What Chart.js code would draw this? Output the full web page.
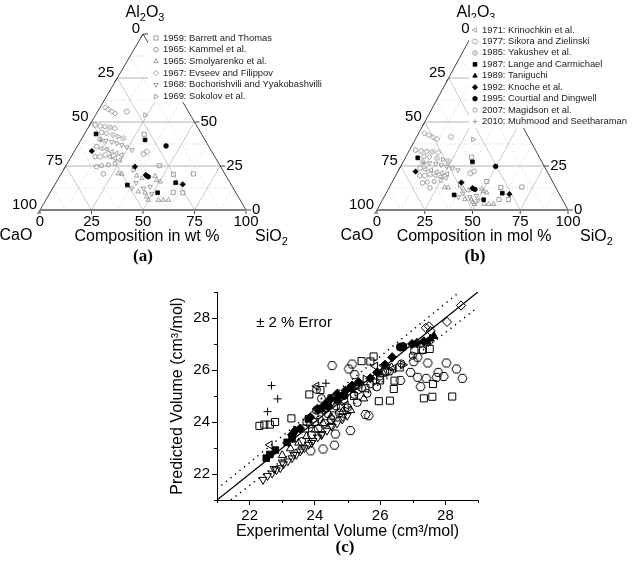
<!DOCTYPE html>
<html>
<head>
<meta charset="utf-8">
<script src="https://cdn.jsdelivr.net/npm/chart.js@4.4.0/dist/chart.umd.min.js"></script>
<style>
  html, body { margin: 0; padding: 0; background: #fff; }
  #wrap { position: relative; width: 638px; height: 563px; overflow: hidden; }
  #wrap canvas { position: absolute; left: 0; top: 0; }
</style>
</head>
<body>
<div id="wrap">
  <canvas id="ternWt" width="638" height="563"></canvas>
  <canvas id="ternMol" width="638" height="563"></canvas>
  <canvas id="volume" width="638" height="563"></canvas>
</div>
<script>
/* ---------------------------------------------------------------------------
   CaO-SiO2-Al2O3 molar volume figure
   (a) ternary in wt %, (b) ternary in mol %, (c) predicted vs experimental
   --------------------------------------------------------------------------- */

const SERIES_NAMES = [
  '1959: Barrett and Thomas',
  '1965: Kammel et al.',
  '1965: Smolyarenko et al.',
  '1967: Evseev and Filippov',
  '1968: Bochorishvili and Yyakobashvilli',
  '1969: Sokolov et al.',
  '1971: Krinochkin et al.',
  '1977: Sikora and Zielinski',
  '1985: Yakushev et al.',
  '1987: Lange and Carmichael',
  '1989: Taniguchi',
  '1992: Knoche et al.',
  '1995: Courtial and Dingwell',
  '2007: Magidson et al.',
  '2010: Muhmood and Seetharaman'
];

// ternary compositions, wt %: [SiO2, Al2O3]  (CaO = rest)
const TERN_BARRETT   = [[29.1, 43.0], [45.3, 25.2], [54.6, 20.3], [64.2, 20.5], [59.7, 10.0], [64.4, 9.8]];
const TERN_KAMMEL    = [[2.6, 48.3], [5.3, 47.7], [7.9, 44.1], [9.5, 36.0], [11.6, 30.3], [15.2, 24.6], [20.5, 20.5]];
const TERN_SMOLY     = [[27.6, 20.8], [29.4, 20.5], [37.2, 19.5], [40.4, 18.0], [46.2, 19.3], [48.1, 17.0], [50.3, 16.1],
                        [42.5, 10.4], [46.1, 9.8], [48.0, 7.6], [49.8, 5.7], [54.6, 5.7], [59.5, 5.7], [57.0, 5.7]];
const TERN_EVSEEV    = [[2.4, 58.3], [4.6, 57.2], [6.9, 55.9], [9.0, 54.9], [10.6, 43.6], [13.2, 46.4]];
const TERN_BOCH      = [[12.3, 39.4], [15.4, 38.8], [18.3, 37.9], [21.2, 36.9], [24.3, 35.6], [27.5, 34.1],
                        [46.8, 13.3], [44.0, 12.3], [49.7, 9.1], [38.4, 12.3], [38.9, 15.5]];
const TERN_SOKOLOV   = [[24.0, 54.0], [34.0, 22.7], [17.2, 41.7]];
const TERN_KRINO     = [[12.4, 35.0], [15.2, 34.5], [18.3, 33.1], [21.1, 32.2], [24.0, 31.3], [18.9, 30.3], [21.7, 29.4], [24.6, 28.4]];
const TERN_SIKORA    = [[14.2, 55.9], [34.3, 31.8], [35.3, 33.1], [14.0, 30.3], [16.0, 31.3]];
const TERN_YAKUSHEV  = [[10.5, 47.0], [14.3, 42.6], [20.1, 40.7], [9.0, 40.2]];
const TERN_LANGE     = [[5.6, 43.2], [31.1, 39.8], [35.3, 14.2], [52.2, 9.8], [58.1, 15.5]];
const TERN_TANIGUCHI = [[42.0, 19.5]];
const TERN_KNOCHE    = [[8.4, 33.5], [33.8, 24.6], [41.4, 19.9], [62.0, 14.6]];
const TERN_COURTIAL  = [[43.0, 36.4], [43.1, 18.9]];
const TERN_MAGIDSON  = [[7.9, 47.3], [17.3, 25.2], [20.4, 25.6], [23.2, 26.5]];
const TERN_MUHMOOD   = [[9.9, 39.4]];

// molar volumes, cm3/mol: [experimental, predicted]
const VOL_BARRETT = [[22.30, 23.85], [22.45, 23.90], [22.62, 23.90], [22.78, 24.00], [23.28, 24.14], [23.83, 25.06],
  [24.17, 25.23], [24.51, 24.91], [25.43, 26.34], [25.70, 26.33], [25.80, 26.52], [25.96, 24.80], [26.30, 24.82],
  [26.42, 25.27], [26.44, 25.59], [27.05, 26.75], [27.31, 26.78], [27.52, 26.81], [27.34, 24.91], [27.60, 24.97],
  [28.21, 24.98], [27.62, 25.46], [24.80, 24.55], [25.20, 25.00], [25.55, 25.30], [26.00, 25.60], [26.15, 25.95],
  [26.60, 26.10], [24.00, 24.00], [23.70, 23.75]];
const VOL_KAMMEL = [[23.60, 23.25], [23.90, 23.50], [24.10, 23.75], [24.30, 23.95], [24.50, 24.10], [24.75, 24.35],
  [25.00, 24.55], [25.30, 24.75], [25.60, 25.10], [25.90, 25.35], [23.75, 24.00], [24.05, 24.45]];
const VOL_SMOLY = [[23.00, 22.72], [23.25, 22.98], [23.50, 23.20], [23.75, 23.45], [24.00, 23.70], [24.25, 23.95],
  [24.50, 24.20], [24.85, 24.40], [25.10, 24.45], [25.50, 24.90], [26.10, 25.85], [26.35, 26.10]];
const VOL_EVSEEV = [[27.40, 27.62], [27.50, 27.68], [27.55, 27.50], [28.05, 27.85], [28.48, 28.48], [24.35, 24.55], [24.55, 24.80]];
const VOL_BOCH = [[22.41, 21.78], [22.55, 21.93], [22.69, 22.02], [22.82, 22.15], [22.94, 22.23], [23.04, 22.38],
  [23.17, 22.49], [23.30, 22.61], [23.43, 22.74], [23.55, 22.87], [23.68, 23.00], [23.81, 23.13], [23.94, 23.28],
  [24.09, 23.41], [24.22, 23.54], [24.37, 23.67], [24.53, 23.82], [24.68, 23.95], [24.84, 24.10], [24.99, 24.24],
  [22.75, 22.20], [23.00, 22.45], [23.35, 22.75], [23.60, 22.95], [23.90, 23.20], [24.20, 23.50], [24.50, 23.85], [24.85, 24.20]];
const VOL_SOKOLOV = [[24.30, 24.45], [25.30, 25.15], [25.85, 25.55], [26.70, 26.20], [25.55, 25.65]];
const VOL_KRINO = [[22.62, 23.12], [24.05, 25.38], [23.15, 23.20], [25.85, 26.15], [26.10, 26.18], [24.95, 24.65], [26.40, 26.05]];
const VOL_SIKORA = [[24.53, 26.17], [25.04, 26.04], [25.14, 26.23], [25.22, 25.82], [24.58, 24.24], [24.63, 23.54],
  [24.25, 22.96], [25.09, 23.67], [25.55, 24.29], [25.65, 24.24], [23.87, 22.89], [24.60, 23.11], [26.93, 25.91],
  [27.15, 25.72], [27.46, 26.27], [27.41, 25.68], [27.24, 25.36], [27.73, 25.72], [27.78, 25.91], [28.03, 26.27],
  [27.95, 25.75], [28.34, 26.04], [28.52, 25.68], [27.03, 26.32], [27.15, 26.49], [26.62, 25.60], [26.20, 25.95]];
const VOL_YAKUSHEV = [[24.05, 25.25], [24.20, 24.90], [25.35, 25.45], [24.65, 24.95]];
const VOL_LANGE = [[22.51, 22.61], [22.62, 22.75], [22.79, 22.92], [23.15, 23.22], [23.30, 23.35], [23.80, 24.12],
  [24.20, 24.52], [24.70, 24.85], [25.10, 25.30]];
const VOL_TANIGUCHI = [[27.45, 27.08], [27.54, 27.20], [27.65, 27.30]];
const VOL_KNOCHE = [[23.40, 23.67], [23.30, 23.51], [23.86, 24.18], [24.07, 24.50], [24.32, 24.69], [24.48, 24.89],
  [24.68, 25.08], [24.94, 25.21], [25.14, 25.40], [25.34, 25.53], [25.70, 25.68], [25.91, 25.91], [26.15, 26.20],
  [26.37, 26.49], [26.98, 27.00], [27.13, 27.04], [27.34, 27.10], [23.55, 23.75]];
const VOL_COURTIAL = [[26.62, 26.88], [26.70, 26.90], [24.40, 24.62], [24.90, 25.02]];
const VOL_MAGIDSON = [[23.85, 23.90], [24.15, 24.10], [24.40, 24.30], [24.65, 24.60], [24.90, 24.85], [25.20, 25.05],
  [25.45, 25.30], [25.70, 25.45], [26.00, 25.75], [26.30, 25.95], [26.65, 26.25], [27.00, 26.55], [27.30, 26.75]];
const VOL_MUHMOOD = [[22.67, 25.40], [22.86, 24.89], [22.55, 24.40], [24.34, 25.49], [24.10, 24.35]];

const TERN_TICKS = [0, 25, 50, 75, 100];
const TERN_GRID = [12.5, 25, 37.5, 50, 62.5, 75, 87.5];
const VOL_TICKS = [22, 24, 26, 28];
const VOL_MINOR = [21, 23, 25, 27, 29];
const VOL_MIN = 21, VOL_MAX = 29;
const ERROR_BAND = 0.02;
const MOLAR_MASS = { CaO: 56.08, SiO2: 60.08, Al2O3: 101.96 };

const TERN_SERIES = [TERN_BARRETT, TERN_KAMMEL, TERN_SMOLY, TERN_EVSEEV, TERN_BOCH, TERN_SOKOLOV, TERN_KRINO,
  TERN_SIKORA, TERN_YAKUSHEV, TERN_LANGE, TERN_TANIGUCHI, TERN_KNOCHE, TERN_COURTIAL, TERN_MAGIDSON, TERN_MUHMOOD];
const VOL_SERIES = [VOL_BARRETT, VOL_KAMMEL, VOL_SMOLY, VOL_EVSEEV, VOL_BOCH, VOL_SOKOLOV, VOL_KRINO,
  VOL_SIKORA, VOL_YAKUSHEV, VOL_LANGE, VOL_TANIGUCHI, VOL_KNOCHE, VOL_COURTIAL, VOL_MAGIDSON, VOL_MUHMOOD];

// marker look per series (radius is for panel c, ternary uses a fraction)
const MARKERS = [
  { style: 'rect', r: 5 },
  { style: 'circle', r: 4 },
  { style: 'triangle', r: 4.6 },
  { style: 'rectRot', r: 4.6 },
  { style: 'triangle', r: 4.6, rot: 180 },
  { style: 'triangle', r: 4.6, rot: 90 },
  { style: 'triangle', r: 4.6, rot: 270 },
  { style: 'hex', r: 4.6 },
  { style: 'dotCircle', r: 4 },
  { style: 'rect', r: 4.6, filled: true },
  { style: 'triangle', r: 4.6, filled: true },
  { style: 'rectRot', r: 4.6, filled: true },
  { style: 'circle', r: 4, filled: true },
  { style: 'circle', r: 3.6 },
  { style: 'cross', r: 4 }
];

const FONT = '"Liberation Sans", Arial, sans-serif';
const SERIF = '"Liberation Serif", "Times New Roman", serif';
Chart.defaults.font.family = FONT;
Chart.defaults.color = '#000';

function symbolCanvas(kind, r, color, lw) {
  const size = Math.ceil(2 * r + lw + 2);
  const c = document.createElement('canvas');
  c.width = c.height = size;
  const g = c.getContext('2d');
  const m = size / 2;
  g.strokeStyle = color;
  g.lineWidth = lw;
  g.beginPath();
  if (kind === 'hex') {
    for (let k = 0; k < 6; k++) {
      const a = k * Math.PI / 3;
      const px = m + r * Math.cos(a), py = m + r * Math.sin(a);
      k ? g.lineTo(px, py) : g.moveTo(px, py);
    }
    g.closePath();
  } else {
    g.arc(m, m, r, 0, 2 * Math.PI);
  }
  g.stroke();
  if (kind === 'dotCircle') {
    g.beginPath();
    g.arc(m, m, Math.max(0.7, r * 0.25), 0, 2 * Math.PI);
    g.fillStyle = color;
    g.fill();
  }
  return c;
}

function pointOpts(i, k, color) {
  const m = MARKERS[i];
  const r = m.r * k;
  const lw = k < 1 ? 0.8 : 1;
  const stroke = m.filled ? '#000' : color;
  let style = m.style;
  if (style === 'hex' || style === 'dotCircle') style = symbolCanvas(style, r, stroke, lw);
  return {
    pointStyle: style,
    pointRotation: m.rot || 0,
    pointRadius: r,
    pointBorderWidth: lw,
    pointBorderColor: stroke,
    pointBackgroundColor: m.filled ? '#000' : 'rgba(0,0,0,0)',
    order: m.filled ? 0 : 1
  };
}

function wtToMol([si, al]) {
  const ca = 100 - si - al;
  const nCa = ca / MOLAR_MASS.CaO, nSi = si / MOLAR_MASS.SiO2, nAl = al / MOLAR_MASS.Al2O3;
  const s = nCa + nSi + nAl;
  return [100 * nSi / s, 100 * nAl / s];
}

function seg(ctx, a, b) {
  ctx.beginPath();
  ctx.moveTo(a[0], a[1]);
  ctx.lineTo(b[0], b[1]);
  ctx.stroke();
}

// text with subscripts: parts = [[text, isSub], ...]
function drawFormula(ctx, parts, x, y, size, align) {
  const widths = parts.map(([t, sub]) => {
    ctx.font = (sub ? size * 0.68 : size) + 'px ' + FONT;
    return ctx.measureText(t).width;
  });
  const total = widths.reduce((a, b) => a + b, 0);
  let cx = align === 'center' ? x - total / 2 : (align === 'right' ? x - total : x);
  ctx.textAlign = 'left';
  ctx.textBaseline = 'middle';
  parts.forEach(([t, sub], i) => {
    ctx.font = (sub ? size * 0.68 : size) + 'px ' + FONT;
    ctx.fillText(t, cx, sub ? y + size * 0.3 : y);
    cx += widths[i];
  });
}

function ternaryDecor(o) {
  const toPx = chart => (si, al) => [
    chart.scales.x.getPixelForValue(si + al / 2),
    chart.scales.y.getPixelForValue(al)
  ];
  return {
    id: 'ternaryDecor',
    beforeDatasetsDraw(chart) {
      const ctx = chart.ctx, P = toPx(chart);
      ctx.save();
      ctx.lineWidth = 1;
      TERN_GRID.forEach(v => {
        const major = v % 25 === 0;
        ctx.setLineDash(major ? [] : [1, 2]);
        ctx.strokeStyle = major ? '#cacaca' : '#d4d4d4';
        seg(ctx, P(100 - v, 0), P(0, 100 - v));
        seg(ctx, P(v, 0), P(v, 100 - v));
        ctx.strokeStyle = major ? '#b2b2b2' : '#d4d4d4';
        seg(ctx, P(0, v), P(100 - v, v));
      });
      ctx.restore();
    },
    afterDatasetsDraw(chart) {
      const ctx = chart.ctx, P = toPx(chart);
      ctx.save();
      ctx.setLineDash([]);
      // edges
      ctx.strokeStyle = '#444';
      ctx.lineWidth = 1;
      seg(ctx, P(0, 0), P(0, 100));
      seg(ctx, P(100, 0), P(0, 100));
      ctx.strokeStyle = '#808080';
      ctx.lineWidth = 2;
      seg(ctx, P(0, 0), P(100, 0));
      // ticks and tick labels
      ctx.lineWidth = 1;
      ctx.strokeStyle = '#444';
      ctx.fillStyle = '#000';
      ctx.font = '15px ' + FONT;
      TERN_TICKS.forEach(v => {
        const l = P(0, 100 - v);
        seg(ctx, l, [l[0] - 2.5, l[1] + 4]);
        ctx.textAlign = 'right';
        ctx.textBaseline = 'middle';
        ctx.fillText(String(v), l[0] - 3, l[1] - 5);

        const b = P(v, 0);
        seg(ctx, [b[0], b[1] + 1], [b[0], b[1] + 4]);
        ctx.textAlign = 'center';
        ctx.fillText(String(v), b[0], b[1] + 12);

        const r = P(100 - v, v);
        seg(ctx, r, [r[0] + 5, r[1]]);
        ctx.textAlign = 'left';
        ctx.fillText(String(v), r[0] + 6, r[1]);
      });
      // titles
      drawFormula(ctx, [['Al', false], ['2', true], ['O', false], ['3', true]], o.al2o3[0], o.al2o3[1], 16, 'center');
      drawFormula(ctx, [['CaO', false]], o.cao[0], o.cao[1], 16, 'center');
      drawFormula(ctx, [['SiO', false], ['2', true]], o.sio2[0], o.sio2[1], 16, 'left');
      drawFormula(ctx, [[o.comp[0], false]], o.comp[1], o.comp[2], 16, 'center');
      ctx.font = 'bold 17px ' + SERIF;
      ctx.textAlign = 'center';
      ctx.textBaseline = 'middle';
      ctx.fillText(o.letter[0], o.letter[1], o.letter[2]);
      // legend on a white box
      const L = o.legend;
      ctx.fillStyle = '#fff';
      ctx.fillRect(L.box[0], L.box[1], L.box[2], L.box[3]);
      for (let i = L.from; i < L.to; i++) {
        const ds = chart.data.datasets[i];
        const yy = L.y0 + (i - L.from) * L.dy;
        ctx.fillStyle = ds.pointBackgroundColor;
        ctx.strokeStyle = ds.pointBorderColor;
        ctx.lineWidth = ds.pointBorderWidth;
        Chart.helpers.drawPoint(ctx, {
          pointStyle: ds.pointStyle, rotation: ds.pointRotation,
          radius: ds.pointRadius, borderWidth: ds.pointBorderWidth
        }, L.x0, yy);
        ctx.fillStyle = '#222';
        ctx.font = '9.4px ' + FONT;
        ctx.textAlign = 'left';
        ctx.textBaseline = 'middle';
        ctx.fillText(ds.label, L.tx, yy);
      }
      ctx.restore();
    }
  };
}

function ternaryChart(id, series, area, decor) {
  return new Chart(document.getElementById(id), {
    type: 'scatter',
    data: {
      datasets: series.map((pts, i) => Object.assign({
        label: SERIES_NAMES[i],
        data: pts.map(([si, al]) => ({ x: si + al / 2, y: al })),
        clip: false
      }, pointOpts(i, 0.58, '#8a8a8a')))
    },
    options: {
      responsive: false,
      animation: false,
      devicePixelRatio: 1,
      events: [],
      layout: { padding: { left: area.left, top: area.top, right: 638 - area.right, bottom: 563 - area.bottom } },
      scales: {
        x: { type: 'linear', min: 0, max: 100, display: false },
        y: { type: 'linear', min: 0, max: 100, display: false }
      },
      plugins: { legend: { display: false }, tooltip: { enabled: false } }
    },
    plugins: [ternaryDecor(decor)]
  });
}

ternaryChart('ternWt', TERN_SERIES, { left: 40, right: 246, top: 34, bottom: 210 }, {
  legend: { from: 0, to: 6, box: [148, 23, 200, 79], x0: 156, tx: 163, y0: 38, dy: 11.7 },
  al2o3: [145, 13], cao: [16, 236], sio2: [255, 237],
  comp: ['Composition in wt %', 147, 237], letter: ['(a)', 143, 257]
});

ternaryChart('ternMol', TERN_SERIES.map(s => s.map(wtToMol)), { left: 377, right: 568, top: 34, bottom: 210 }, {
  legend: { from: 6, to: 15, box: [469, 18, 169, 110], x0: 475, tx: 482, y0: 30, dy: 11.45 },
  al2o3: [476, 13], cao: [357, 236], sio2: [580, 237],
  comp: ['Composition in mol %', 474, 237], letter: ['(b)', 475, 257]
});

// ---- panel (c) ----
const volumeDecor = {
  id: 'volumeDecor',
  afterDraw(chart) {
    const { ctx, scales: { x, y } } = chart;
    ctx.save();
    ctx.strokeStyle = '#000';
    ctx.lineWidth = 1;
    VOL_MINOR.forEach(v => {
      const px = Math.round(x.getPixelForValue(v)) + 0.5;
      seg(ctx, [px, y.bottom], [px, y.bottom + 3]);
      const py = Math.round(y.getPixelForValue(v)) + 0.5;
      seg(ctx, [x.left - 3, py], [x.left, py]);
    });
    ctx.fillStyle = '#000';
    ctx.font = '15px ' + FONT;
    ctx.textAlign = 'left';
    ctx.textBaseline = 'middle';
    ctx.fillText('\u00b1 2 % Error', x.getPixelForValue(22.2), y.getPixelForValue(27.83));
    ctx.font = 'bold 17px ' + SERIF;
    ctx.textAlign = 'center';
    ctx.fillText('(c)', 345, 548);
    ctx.restore();
  }
};

const refLine = (pts, dash, width) => ({
  type: 'line',
  data: pts.map(([a, b]) => ({ x: a, y: b })),
  borderColor: '#000',
  borderWidth: width,
  borderDash: dash,
  pointRadius: 0,
  showLine: true,
  fill: false,
  order: 2
});

new Chart(document.getElementById('volume'), {
  type: 'scatter',
  data: {
    datasets: VOL_SERIES.map((pts, i) => Object.assign({
      label: SERIES_NAMES[i],
      data: pts.map(([a, b]) => ({ x: a, y: b }))
    }, pointOpts(i, 1, '#000'))).concat([
      refLine([[VOL_MIN, VOL_MIN], [VOL_MAX, VOL_MAX]], [], 1.3),
      refLine([[VOL_MIN, VOL_MIN * (1 + ERROR_BAND)], [VOL_MAX / (1 + ERROR_BAND), VOL_MAX]], [1.3, 4.5], 1.5),
      refLine([[VOL_MIN / (1 - ERROR_BAND), VOL_MIN], [VOL_MAX, VOL_MAX * (1 - ERROR_BAND)]], [1.3, 4.5], 1.5)
    ])
  },
  options: {
    responsive: false,
    animation: false,
    devicePixelRatio: 1,
    events: [],
    layout: { padding: { left: 160, top: 292, right: 160, bottom: 20 } },
    scales: {
      x: {
        type: 'linear', min: VOL_MIN, max: VOL_MAX,
        afterFit(s) { s.height = 43; },
        afterBuildTicks(s) { s.ticks = VOL_TICKS.map(v => ({ value: v })); },
        ticks: { font: { size: 15 }, color: '#000', padding: 2, maxRotation: 0 },
        grid: { drawOnChartArea: false, tickLength: 5, color: '#000' },
        border: { color: '#000', width: 1 },
        title: { display: true, text: 'Experimental Volume (cm\u00b3/mol)', font: { size: 16 }, color: '#000', padding: { top: 0, bottom: 1.5 } }
      },
      y: {
        type: 'linear', min: VOL_MIN, max: VOL_MAX,
        afterFit(s) { s.width = 57; },
        afterBuildTicks(s) { s.ticks = VOL_TICKS.map(v => ({ value: v })); },
        ticks: { font: { size: 15 }, color: '#000', padding: 2 },
        grid: { drawOnChartArea: false, tickLength: 5, color: '#000' },
        border: { color: '#000', width: 1 },
        title: { display: true, text: 'Predicted Volume (cm\u00b3/mol)', font: { size: 16 }, color: '#000', padding: { top: 7.5, bottom: 0 } }
      }
    },
    plugins: { legend: { display: false }, tooltip: { enabled: false } }
  },
  plugins: [volumeDecor]
});
</script>
</body>
</html>
